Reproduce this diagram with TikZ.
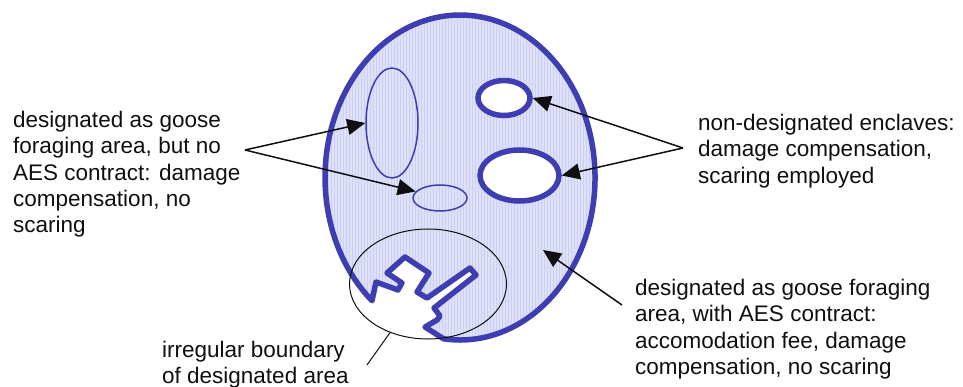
\documentclass[tikz,border=0pt]{standalone}
\usepackage{fontspec}
\setmainfont{Liberation Sans}
\usetikzlibrary{shapes.geometric,arrows.meta}
\definecolor{bl}{RGB}{62,62,178}
\definecolor{lav}{RGB}{222,225,247}
\definecolor{lavline}{RGB}{204,208,240}
\definecolor{ink}{RGB}{15,15,15}
\newcommand{\areapath}{(372,300.7) arc[start angle=229.3, end angle=-97, x radius=135pt, y radius=162.5pt]
  -- (425,327) -- (437,320) -- (440,316) -- (434,308) -- (476,275) -- (470,268)
  -- (427,298) -- (417,292) -- (429,273) -- (405,257) -- (387,273) -- (402,283)
  -- (398,290) -- (376,282) -- cycle}
\begin{document}
\begin{tikzpicture}[x=1pt,y=-1pt,
  lbl/.style={anchor=north west, inner sep=0pt, align=left, text=ink,
    font=\fontsize{22.5}{26.3}\selectfont},
  thinell/.style={ellipse, draw=bl, line width=1.5pt, inner sep=0pt},
  encl/.style={ellipse, draw=bl, fill=white, line width=5.5pt, inner sep=0pt},
  arr/.style={draw=ink, line width=1.5pt, -{Triangle[length=18pt,width=16pt]}},
]
\useasboundingbox (0,0) rectangle (963,387);
% designated area with irregular boundary
\path[fill=lav] \areapath;
\begin{scope}
  \clip \areapath;
  \foreach \x in {322,325,...,600} \draw[lavline, line width=1pt] (\x,8) -- (\x,348);
\end{scope}
\draw[draw=bl, line width=5.5pt, line join=round] \areapath;
% areas without AES contract
\node[thinell, minimum width=52pt, minimum height=110pt] (tall) at (392,123) {};
\node[thinell, minimum width=54pt, minimum height=26pt] (small) at (440,198) {};
% non-designated enclaves
\node[encl, minimum width=52pt, minimum height=35pt] (enca) at (504,98) {};
\node[encl, minimum width=79pt, minimum height=51pt] (encb) at (519.5,175.5) {};
% highlight of the irregular boundary
\node[ellipse, draw=ink, line width=1pt, inner sep=0pt, minimum width=157pt, minimum height=110pt] (blk) at (428,284) {};
% labels
\node[lbl] (tl) at (13,111) {designated as goose\\foraging area, but no\\AES contract: damage\\compensation, no\\scaring};
\node[lbl] (tr) at (698,114) {non-designated enclaves:\\damage compensation,\\scaring employed};
\node[lbl] (br) at (635,279) {designated as goose foraging\\area, with AES contract:\\accomodation fee, damage\\compensation, no scaring};
\node[lbl] (bo) at (162,341) {irregular boundary\\of designated area};
% connectors
\coordinate (lj) at (245,150);
\coordinate (rj) at (683,148);
\coordinate (brt) at (622,305);
\coordinate (brh) at (543,250);
\coordinate (ib) at (367,365);
\draw[arr] (lj) -- (tall.west);
\draw[arr] (lj) -- (small.165);
\draw[arr] (rj) -- (enca.east);
\draw[arr] (rj) -- (encb.east);
\draw[arr] (brt) -- (brh);
\draw[draw=ink, line width=1pt] (ib) -- (blk.232);
\end{tikzpicture}
\end{document}
